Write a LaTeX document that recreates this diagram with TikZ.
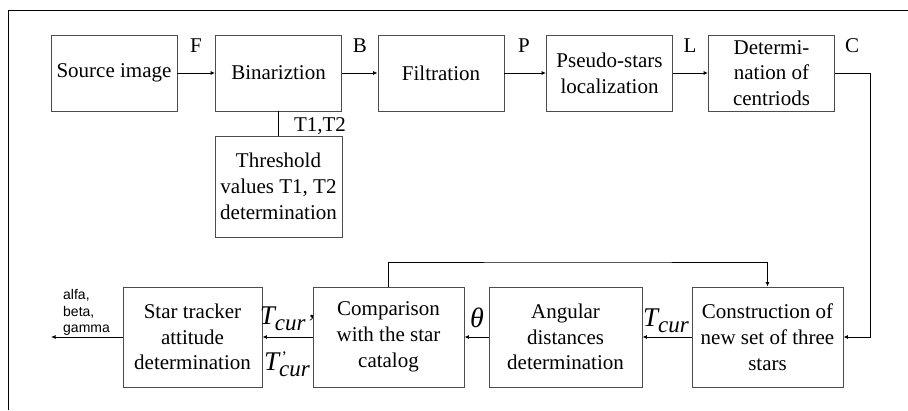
\documentclass[tikz,border=0pt]{standalone}
\usepackage{fontspec}
\setmainfont{Liberation Serif}
\newfontfamily\arialfont{Liberation Sans}
\usetikzlibrary{arrows.meta}

\newcommand{\bigT}{{\fontsize{27}{27}\selectfont\itshape T}}
\newcommand{\subcur}[1]{\raisebox{-6pt}{\fontsize{23}{23}\selectfont\itshape cur#1}}

\begin{document}
\begin{tikzpicture}[x=1pt,y=1pt,
    blk/.style={draw=black!70,line width=0.9pt,inner sep=0pt,align=center,
        minimum width=126pt,minimum height=76pt,font=\fontsize{21}{25.8}\selectfont},
    lbl/.style={inner sep=0pt,font=\fontsize{21}{25.8}\selectfont},
    wire/.style={draw=black,line width=0.9pt},
    >={Latex[length=4.5pt,width=4pt]}]
    \useasboundingbox (0,0) rectangle (908,410);
    \draw[wire] (908,400) -- (8,400) -- (8,0);

    \node[blk] (SRC) at (114,337) {Source image};
    \node[blk] (BIN) at (278.5,337) {Binariztion};
    \node[blk] (FIL) at (441,337) {Filtration};
    \node[blk] (PSL) at (609.5,337) {Pseudo-stars\\localization};
    \node[blk] (DET) at (771.5,337) {Determi-\\nation of\\centriods};
    \node[blk,minimum width=127pt,minimum height=101pt] (THR) at (278.5,223.5) {Threshold\\values T1, T2\\determination};

    \node[blk,minimum width=139pt,minimum height=100pt] (STA) at (192.5,73) {Star tracker\\attitude\\determination};
    \node[blk,minimum width=151pt,minimum height=100pt] (CMP) at (388.5,73) {Comparison\\with the star\\catalog};
    \node[blk,minimum width=153pt,minimum height=100pt] (ANG) at (565.5,73) {Angular\\distances\\determination};
    \node[blk,minimum width=151pt,minimum height=100pt] (CON) at (767.5,73) {Construction of\\new set of three\\stars};

    \node[lbl] (labF) at (196,364) {F};
    \node[lbl] (labB) at (360,364) {B};
    \node[lbl] (labP) at (524,364) {P};
    \node[lbl] (labL) at (690,364) {L};
    \node[lbl] (labC) at (852,364) {C};
    \node[lbl] (labT) at (320,284) {T1,T2};

    \node[lbl] (labTc) at (666,89) {\bigT\subcur{}};
    \node[lbl] (labTh) at (477,92) {\fontsize{28}{28}\selectfont\itshape θ};
    \node[lbl] (labTa) at (287,91) {\bigT\subcur{’}};
    \node[lbl] (labTb) at (287,46) {\bigT\makebox[0pt][l]{\hspace{2.5pt}\raisebox{8pt}{\fontsize{16}{16}\selectfont ’}}\subcur{}};
    \node[inner sep=0pt,anchor=south west,align=left,
        font=\arialfont\fontsize{14}{16.7}\selectfont] (labA) at (63,74) {alfa,\\beta,\\gamma};

    \coordinate (CNR) at (870,337);
    \coordinate (FB) at (578,148);
    \coordinate (OUT) at (51,73);

    \draw[wire,->] (SRC) -- (BIN);
    \draw[wire,->] (BIN) -- (FIL);
    \draw[wire,->] (FIL) -- (PSL);
    \draw[wire,->] (PSL) -- (DET);
    \draw[wire] (BIN) -- (THR);
    \draw[wire,->] (DET) -- (CNR) |- (CON);
    \draw[wire,->] (CON) -- (ANG);
    \draw[wire,->] (ANG) -- (CMP);
    \draw[wire,->] (CMP) -- (STA);
    \draw[wire,->] (STA) -- (OUT);
    \draw[wire,->] (CMP.north) |- (FB) -| (CON.north);
\end{tikzpicture}
\end{document}
